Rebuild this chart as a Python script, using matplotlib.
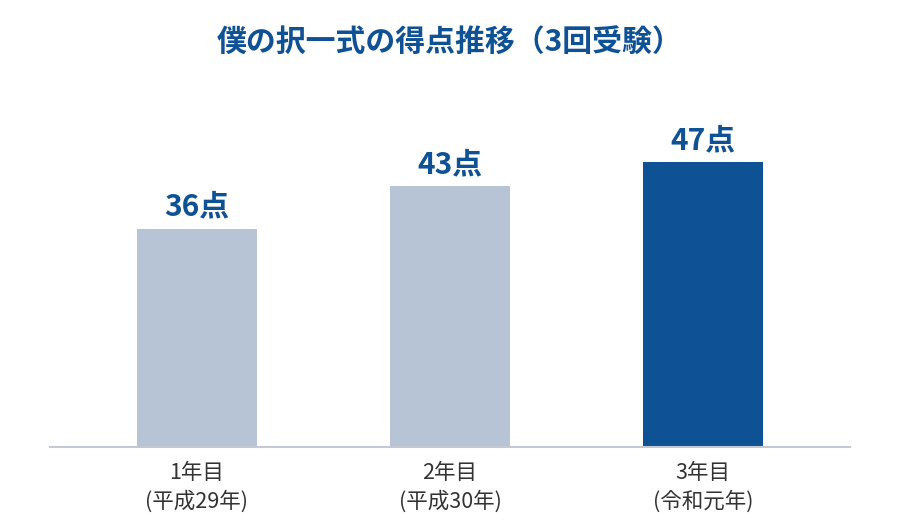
import matplotlib
matplotlib.use("Agg")
import matplotlib.pyplot as plt

plt.rcParams['font.family'] = ['Noto Sans CJK JP', 'DejaVu Sans']

categories = ["1年目\n(平成29年)", "2年目\n(平成30年)", "3年目\n(令和元年)"]
scores = [36, 43, 47]
value_labels = ["36点", "43点", "47点"]
bar_colors = ["#b7c4d6", "#b7c4d6", "#0e5194"]
title = "僕の択一式の得点推移（3回受験）"

fig = plt.figure(figsize=(9, 5.2), dpi=100)
ax = fig.add_axes([50/900, 73/520, 800/900, 364/520])

x = list(range(len(categories)))
bars = ax.bar(x, scores, width=0.474, color=bar_colors, zorder=2)

for xi, v, lab in zip(x, scores, value_labels):
    ax.annotate(lab, (xi, v), xytext=(0, 5), textcoords="offset points",
                ha="center", va="bottom", fontsize=21.5, fontweight="bold",
                color="#0e5194")

ax.set_xlim(-0.581, 2.581)
ax.set_ylim(0, 60)
ax.set_xticks(x)
ax.set_xticklabels(categories, fontsize=15.5, color="#333333", linespacing=1.32)
ax.tick_params(axis="x", length=0, pad=11)
ax.set_yticks([])
for s in ["top", "right", "left"]:
    ax.spines[s].set_visible(False)
ax.spines["bottom"].set_color("#c3c8d2")
ax.spines["bottom"].set_linewidth(1.5)

fig.text(0.5, 1 - 43/520, title, ha="center", va="center", fontsize=21.5,
         fontweight="bold", color="#0e5194")

fig.savefig("out.png", dpi=100, facecolor="white")
